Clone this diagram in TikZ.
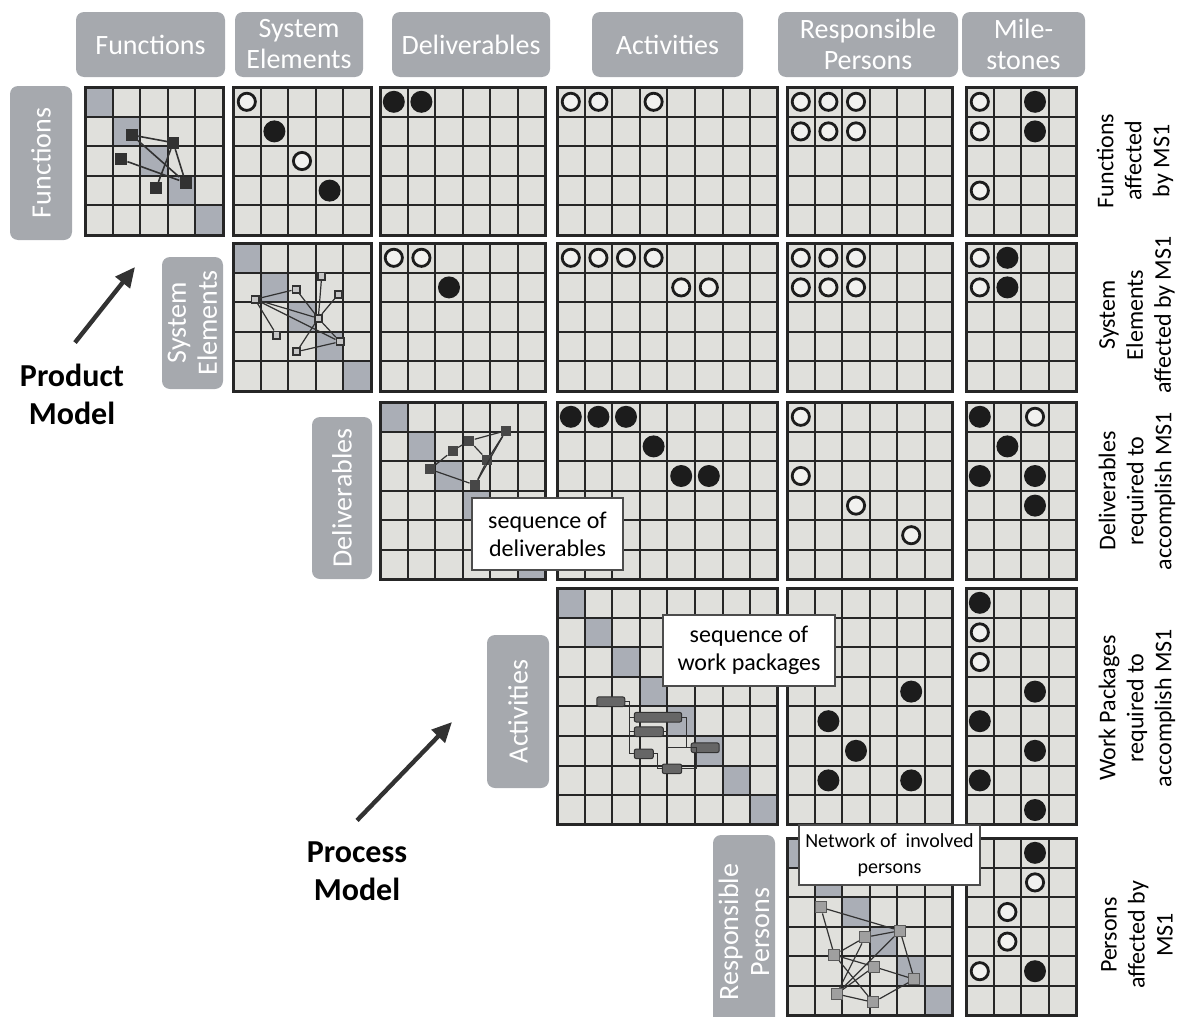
\documentclass[tikz,border=0pt]{standalone}
\usepackage{fontspec}
\setmainfont{Carlito}
\usepackage{tikz}
\usetikzlibrary{arrows.meta,calc}
\definecolor{cellfill}{RGB}{224,224,220}
\definecolor{diagfill}{RGB}{170,174,182}
\definecolor{headfill}{RGB}{166,169,174}
\definecolor{gridink}{RGB}{38,38,38}
\definecolor{dotink}{RGB}{28,28,28}
\definecolor{netdark}{RGB}{50,50,50}
\def\cw{27.6}
\def\ch{29.6}
% one DSM block: name, left, top, columns, rows, shaded diagonal cells
\newcommand{\mxblock}[6]{%
  \coordinate (#1) at (#2,#3);
  \fill[cellfill] (#1) rectangle ++({#4*\cw},{#5*\ch});
  \ifnum#6>0
    \foreach \k in {1,...,#6}
      \fill[diagfill] ({#2+(\k-1)*\cw},{#3+(\k-1)*\ch}) rectangle ++(\cw,\ch);
  \fi
  \foreach \i in {0,...,#4}
    \draw[gridline] ({#2+\i*\cw},#3) -- ++(0,{#5*\ch});
  \foreach \j in {0,...,#5}
    \draw[gridline] (#2,{#3+\j*\ch}) -- ++({#4*\cw},0);
  \draw[blockedge] (#1) rectangle ++({#4*\cw},{#5*\ch});
}
% marks in a block: row/column/style
\newcommand{\mxdots}[2]{%
  \foreach \r/\c/\k in {#2}
    \node[\k] (#1-\r-\c) at ($(#1)+({(\c-0.5)*\cw},{(\r-0.5)*\ch})$) {};
}
\tikzset{
  headbox/.style={
    fill=headfill,
    rounded corners=4pt,
    text=white,
    align=center,
    inner sep=2pt,
    font=\fontsize{14}{15.5}\selectfont
  },
  sidebox/.style={headbox, rotate=90},
  gridline/.style={draw=gridink, line width=1pt},
  blockedge/.style={draw=gridink, line width=1.5pt},
  opendot/.style={circle, draw=dotink, line width=1.4pt, fill=white!55!cellfill,
    minimum size=8.6pt, inner sep=0pt},
  fulldot/.style={circle, fill=dotink, minimum size=11pt, inner sep=0pt},
  note/.style={draw=gray!60!black, line width=0.6pt, fill=white, align=center,
    inner sep=2pt, font=\fontsize{12}{14}\selectfont},
  msnote/.style={align=center, rotate=90, font=\fontsize{12}{14}\selectfont},
  model/.style={align=center, font=\fontsize{16}{19}\selectfont\bfseries},
  bigarrow/.style={-{Triangle[length=10pt,width=9pt]}, line width=2.2pt, draw=netdark},
  link/.style={draw=netdark, line width=0.8pt}
}
\begin{document}
\begin{tikzpicture}[
    x=0.5pt,
    y=-0.5pt,
    fnsq/.style={rectangle, fill=netdark, minimum size=6pt, inner sep=0pt},
    sesq/.style={rectangle, draw=netdark, line width=0.9pt, fill=gray!45,
      minimum size=3.6pt, inner sep=0pt},
    dlsq/.style={rectangle, fill=netdark!90, minimum size=5pt, inner sep=0pt},
    rpsq/.style={rectangle, fill=gray!75, draw=netdark!80, line width=0.6pt,
      minimum size=5.5pt, inner sep=0pt},
    wpbar/.style={rectangle, rounded corners=1pt, fill=gray!80!black, draw=netdark,
      line width=0.5pt, inner sep=0pt, minimum height=4.8pt},
    thinlink/.style={link, line width=0.6pt}
  ]
  \useasboundingbox (0,0) rectangle (1184,1017);

  % column heads
  \node[headbox, minimum width=74.5pt, minimum height=32.5pt] (hfn) at (150.5,44.5) {Functions};
  \node[headbox, minimum width=64pt, minimum height=32.5pt] (hse) at (299,44.5) {System\\Elements};
  \node[headbox, minimum width=79pt, minimum height=32.5pt] (hdl) at (471,44.5) {Deliverables};
  \node[headbox, minimum width=75.5pt, minimum height=32.5pt] (hac) at (667.5,44.5) {Activities};
  \node[headbox, minimum width=90pt, minimum height=32.5pt] (hrp) at (868,44.5) {Responsible\\Persons};
  \node[headbox, minimum width=61.5pt, minimum height=32.5pt] (hms) at (1023.5,44.5) {Mile-\\stones};

  % row heads
  \node[sidebox, minimum width=77pt, minimum height=31pt] (vfn) at (41,163) {Functions};
  \node[sidebox, minimum width=66pt, minimum height=30.5pt] (vse) at (192.5,323) {System\\Elements};
  \node[sidebox, minimum width=81pt, minimum height=30pt] (vdl) at (342,498) {Deliverables};
  \node[sidebox, minimum width=76.5pt, minimum height=31pt] (vac) at (518,711.5) {Activities};
  \node[sidebox, minimum width=97pt, minimum height=31pt] (vrp) at (744,932) {Responsible\\Persons};

  % matrix blocks
  \mxblock{fn-fn}{85}{87}{5}{5}{5}
  \mxblock{fn-se}{233}{87}{5}{5}{0}
  \mxblock{fn-dl}{380}{87}{6}{5}{0}
  \mxblock{fn-ac}{557}{87}{8}{5}{0}
  \mxblock{fn-rp}{787}{87}{6}{5}{0}
  \mxblock{fn-ms}{966}{87}{4}{5}{0}
  \mxblock{se-se}{233}{243}{5}{5}{5}
  \mxblock{se-dl}{380}{243}{6}{5}{0}
  \mxblock{se-ac}{557}{243}{8}{5}{0}
  \mxblock{se-rp}{787}{243}{6}{5}{0}
  \mxblock{se-ms}{966}{243}{4}{5}{0}
  \mxblock{dl-dl}{380}{402}{6}{6}{6}
  \mxblock{dl-ac}{557}{402}{8}{6}{0}
  \mxblock{dl-rp}{787}{402}{6}{6}{0}
  \mxblock{dl-ms}{966}{402}{4}{6}{0}
  \mxblock{ac-ac}{557}{588}{8}{8}{8}
  \mxblock{ac-rp}{787}{588}{6}{8}{0}
  \mxblock{ac-ms}{966}{588}{4}{8}{0}
  \mxblock{rp-rp}{787}{838}{6}{6}{6}
  \mxblock{rp-ms}{966}{838}{4}{6}{0}

  % dependencies
  \mxdots{fn-se}{1/1/opendot,2/2/fulldot,3/3/opendot,4/4/fulldot}
  \mxdots{fn-dl}{1/1/fulldot,1/2/fulldot}
  \mxdots{fn-ac}{1/1/opendot,1/2/opendot,1/4/opendot}
  \mxdots{fn-rp}{1/1/opendot,1/2/opendot,1/3/opendot,2/1/opendot,2/2/opendot,2/3/opendot}
  \mxdots{fn-ms}{1/1/opendot,1/3/fulldot,2/1/opendot,2/3/fulldot,4/1/opendot}
  \mxdots{se-dl}{1/1/opendot,1/2/opendot,2/3/fulldot}
  \mxdots{se-ac}{1/1/opendot,1/2/opendot,1/3/opendot,1/4/opendot,2/5/opendot,2/6/opendot}
  \mxdots{se-rp}{1/1/opendot,1/2/opendot,1/3/opendot,2/1/opendot,2/2/opendot,2/3/opendot}
  \mxdots{se-ms}{1/1/opendot,1/2/fulldot,2/1/opendot,2/2/fulldot}
  \mxdots{dl-ac}{1/1/fulldot,1/2/fulldot,1/3/fulldot,2/4/fulldot,3/5/fulldot,3/6/fulldot}
  \mxdots{dl-rp}{1/1/opendot,3/1/opendot,4/3/opendot,5/5/opendot}
  \mxdots{dl-ms}{1/1/fulldot,1/3/opendot,2/2/fulldot,3/1/fulldot,3/3/fulldot,4/3/fulldot}
  \mxdots{ac-rp}{4/5/fulldot,5/2/fulldot,6/3/fulldot,7/2/fulldot,7/5/fulldot}
  \mxdots{ac-ms}{1/1/fulldot,2/1/opendot,3/1/opendot,4/3/fulldot,5/1/fulldot,6/3/fulldot,7/1/fulldot,8/3/fulldot}
  \mxdots{rp-ms}{1/3/fulldot,2/3/opendot,3/2/opendot,4/2/opendot,5/1/opendot,5/3/fulldot}

  % function network
  \node[fnsq] (fa) at (131.7,135) {};
  \node[fnsq] (fb) at (173.3,142.7) {};
  \node[fnsq] (fc) at (121,159.3) {};
  \node[fnsq] (fd) at (156,188.3) {};
  \node[fnsq] (fe) at (185.7,182.7) {};
  \draw[link] (fa) -- (fb);
  \draw[link] (fa) -- (fe);
  \draw[link] (fb) -- (fe);
  \draw[link] (fb) -- (fd);
  \draw[link] (fc) -- (fe);

  % system element network
  \node[sesq] (sp) at (255,299.3) {};
  \node[sesq] (sq) at (296,289.3) {};
  \node[sesq] (sr) at (321.7,276) {};
  \node[sesq] (ss) at (338.3,294.3) {};
  \node[sesq] (st) at (318.3,318.3) {};
  \node[sesq] (su) at (276.7,335) {};
  \node[sesq] (sv) at (340,341.7) {};
  \node[sesq] (sw) at (296.7,351.7) {};
  \draw[thinlink] (sp) -- (sq);
  \draw[thinlink] (sp) -- (st);
  \draw[thinlink] (sp) -- (sv);
  \draw[thinlink] (sp) -- (su);
  \draw[thinlink] (sq) -- (st);
  \draw[thinlink] (sr) -- (st);
  \draw[thinlink] (ss) -- (st);
  \draw[thinlink] (st) -- (sw);
  \draw[thinlink] (st) -- (sv);
  \draw[thinlink] (sv) -- (sw);

  % deliverable network
  \node[dlsq] (da) at (430,469.3) {};
  \node[dlsq] (db) at (452.7,450.7) {};
  \node[dlsq] (dc) at (469.3,440.7) {};
  \node[dlsq] (dd) at (506,430.7) {};
  \node[dlsq] (de) at (487.3,460) {};
  \node[dlsq] (df) at (475,485) {};
  \draw[thinlink] (da) -- (db);
  \draw[thinlink] (db) -- (dc);
  \draw[thinlink] (dc) -- (dd);
  \draw[thinlink] (dc) -- (de);
  \draw[thinlink] (dd) -- (de);
  \draw[thinlink] (dd) -- (df);
  \draw[thinlink] (de) -- (df);
  \draw[thinlink] (da) -- (df);

  % work package schedule
  \node[wpbar, minimum width=14pt] (wp1) at (610.8,701.7) {};
  \node[wpbar, minimum width=23.7pt] (wp2) at (658,717.2) {};
  \node[wpbar, minimum width=14.5pt] (wp3) at (648.8,731.7) {};
  \node[wpbar, minimum width=9.5pt] (wp4) at (643.8,753.8) {};
  \node[wpbar, minimum width=14pt] (wp5) at (705.2,747.7) {};
  \node[wpbar, minimum width=9.7pt] (wp6) at (672,768.8) {};
  \draw[thinlink] (wp1.east) -- ++(4,0) |- (wp2.west);
  \draw[thinlink] (wp1.east) -- ++(4,0) |- (wp3.west);
  \draw[thinlink] (wp1.east) -- ++(4,0) |- (wp4.west);
  \draw[thinlink] (wp2.east) -- ++(4.5,0) |- (wp5.west);
  \draw[thinlink] (wp3.east) -- ++(3.5,0) |- (wp5.west);
  \draw[thinlink] (wp4.east) -- ++(4,0) |- (wp6.west);
  \draw[thinlink] (wp6.east) -- ++(14,0) |- (wp5.west);

  % person network
  \node[rpsq] (pa) at (820.7,907.3) {};
  \node[rpsq] (pb) at (865,937.3) {};
  \node[rpsq] (pc) at (900,930.7) {};
  \node[rpsq] (pd) at (834.3,955) {};
  \node[rpsq] (pe) at (874,966.7) {};
  \node[rpsq] (pf) at (914.3,979.3) {};
  \node[rpsq] (pg) at (836.7,994) {};
  \node[rpsq] (ph) at (873.3,1002.3) {};
  \draw[thinlink] (pa) -- (pc);
  \draw[thinlink] (pa) -- (pd);
  \draw[thinlink] (pb) -- (pc);
  \draw[thinlink] (pb) -- (pd);
  \draw[thinlink] (pb) -- (pg);
  \draw[thinlink] (pc) -- (pf);
  \draw[thinlink] (pc) -- (pg);
  \draw[thinlink] (pd) -- (pe);
  \draw[thinlink] (pd) -- (ph);
  \draw[thinlink] (pe) -- (pg);
  \draw[thinlink] (pe) -- (pf);
  \draw[thinlink] (pf) -- (ph);
  \draw[thinlink] (pg) -- (ph);

  % callouts
  \node[note, minimum width=75.5pt, minimum height=36pt] (seqdl) at (547.5,534)
    {sequence of\\deliverables};
  \node[note, minimum width=86pt, minimum height=35.5pt] (seqwp) at (749,650.5)
    {sequence of\\work packages};
  \node[note, minimum width=90.5pt, minimum height=30pt, font=\fontsize{10}{13}\selectfont]
    (netrp) at (889.5,855) {Network of\ \ involved\\persons};

  % milestone notes
  \node[msnote] (msfn) at (1135,161) {Functions\\affected\\by MS1};
  \node[msnote] (msse) at (1137,315) {System\\Elements\\affected by MS1};
  \node[msnote] (msdl) at (1137,491) {Deliverables\\required to\\accomplish MS1};
  \node[msnote] (msac) at (1137,708) {Work Packages\\required to\\accomplish MS1};
  \node[msnote] (msrp) at (1137,935) {Persons\\affected by\\MS1};

  % model labels
  \node[model] (prod) at (72,394) {Product\\Model};
  \coordinate (prodtip) at (135,267);
  \draw[bigarrow] ([xshift=1.5pt,yshift=7pt]prod.north) -- (prodtip);
  \node[model] (proc) at (357,871) {Process\\Model};
  \coordinate (proctip) at (452,722);
  \draw[bigarrow] ([yshift=7pt]proc.north) -- (proctip);
\end{tikzpicture}
\end{document}
